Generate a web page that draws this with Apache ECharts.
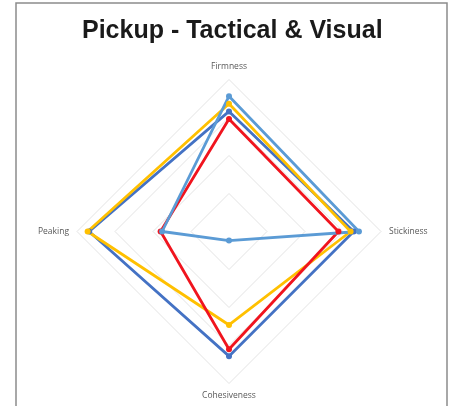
<!DOCTYPE html>
<html>
<head>
<meta charset="utf-8">
<script src="https://cdn.jsdelivr.net/npm/echarts@6/dist/echarts.min.js"></script>
<style>
  html, body { margin: 0; padding: 0; background: #fff; }
  #chart { width: 450px; height: 406px; }
</style>
</head>
<body>
<div id="chart"></div>
<script>
// axes, listed in ECharts order (top, then counter-clockwise)
let axis_names = ['Firmness', 'Peaking', 'Cohesiveness', 'Stickiness'];
let axis_max = 10;

// one array per line, same order as axis_names
let dark_blue = [7.9, 9.2, 8.2, 8.2];
let yellow = [8.4, 9.3, 6.15, 8.0];
let red = [7.4, 4.5, 7.75, 7.2];
let light_blue = [8.9, 4.4, 0.6, 8.55];

let line_colors = ['#4472C4', '#FFC000', '#F0141E', '#5B9BD5'];

let myChart = echarts.init(document.getElementById('chart'));

let indicators = [];
for (let i = 0; i < axis_names.length; i++) {
    indicators.push({name: axis_names[i], max: axis_max});
}

let lines = [dark_blue, yellow, red, light_blue];
let radar_data = [];
lines.forEach(function (d, i) {
    radar_data.push({
        value: d,
        symbol: 'circle',
        symbolSize: 6,
        lineStyle: {color: line_colors[i], width: 2.8},
        itemStyle: {color: line_colors[i]}
    });
});

let option = {
    animation: false,
    title: {
        text: 'Pickup - Tactical & Visual',
        left: 77,
        top: 14,
        textStyle: {
            fontFamily: 'Liberation Sans',
            fontWeight: 'bold',
            fontSize: 25,
            color: '#1a1a1a'
        }
    },
    graphic: [{
        type: 'rect',
        shape: {x: 16, y: 3, width: 431, height: 420},
        style: {fill: 'none', stroke: '#8c8c8c', lineWidth: 1.5}
    }],
    radar: {
        center: [229, 231.5],
        radius: 152,
        startAngle: 90,
        shape: 'polygon',
        splitNumber: 4,
        indicator: indicators,
        axisName: {
            color: '#595959',
            fontSize: 8.5,
            fontFamily: 'Open Sans'
        },
        nameGap: 8,
        axisLine: {show: false},
        splitArea: {show: false},
        splitLine: {lineStyle: {color: '#e3e3e3', width: 1}}
    },
    series: [{
        type: 'radar',
        data: radar_data
    }]
};
myChart.setOption(option);
</script>
</body>
</html>
